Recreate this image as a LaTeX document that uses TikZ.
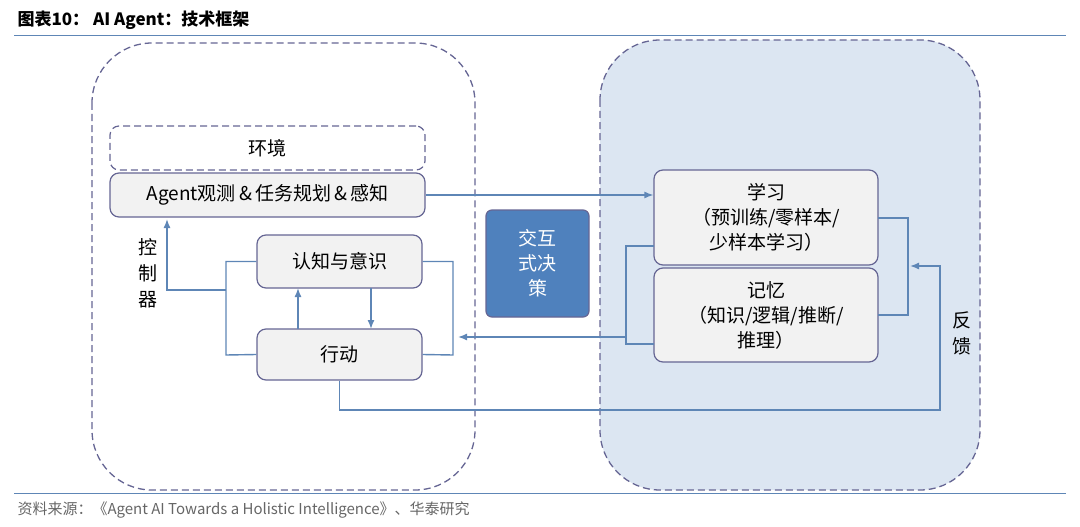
\documentclass[tikz,border=0pt]{standalone}
\usepackage{fontspec}
\setmainfont{Liberation Sans}
\newfontfamily\cjk{Noto Sans CJK SC}
\begin{document}
\begin{tikzpicture}[x=1pt,y=-1pt,
 box/.style={draw=black!70!blue!60,line width=1.2pt,fill=black!5,rounded corners=9pt,align=center,font=\cjk\fontsize{19}{25}\selectfont},
 con/.style={draw=lnc,line width=1.4pt},
 arr/.style={con,-{Latex[length=9pt,width=7pt]}}]
\usetikzlibrary{arrows.meta}
\definecolor{lnc}{HTML}{5E86B6}
\definecolor{bgb}{HTML}{DCE6F2}
\definecolor{dec}{HTML}{4F81BD}
\useasboundingbox (0,0) rectangle (1080,527);
\node[anchor=west,font=\cjk\bfseries\fontsize{17}{20}\selectfont] (title) at (14,20) {图表10： AI Agent：技术框架};
\draw[lnc,line width=1pt] (14,36) -- (1066,36);
\draw[lnc,line width=1pt] (14,493) -- (1066,493);
\node[anchor=west,font=\cjk\fontsize{15}{18}\selectfont,text=black!60] (src) at (14,510) {资料来源：《Agent AI Towards a Holistic Intelligence》、华泰研究};
\draw[dashed,line width=1.3pt,draw=black!70!blue!60,rounded corners=60pt,dash pattern=on 7pt off 4pt] (92,43) rectangle (475,490);
\draw[dashed,line width=1.3pt,draw=black!70!blue!60,fill=bgb,rounded corners=60pt,dash pattern=on 7pt off 4pt] (600,40) rectangle (980,490);
\node[box,fill=white,dashed,dash pattern=on 7pt off 4pt,minimum width=315pt,minimum height=44pt] (env) at (267.5,148) {环境};
\node[box,minimum width=315pt,minimum height=44pt] (agent) at (267.5,195) {Agent观测\,\&\,任务规划\,\&\,感知};
\node[box,minimum width=165pt,minimum height=53pt] (cog) at (339.5,261.5) {认知与意识};
\node[box,minimum width=165pt,minimum height=51pt] (act) at (339.5,354.5) {行动};
\node[box,fill=dec,text=white,minimum width=103pt,minimum height=107pt,rounded corners=6pt] (dec) at (537.5,263.5) {交互\\式决\\策};
\node[box,minimum width=224pt,minimum height=95pt] (learn) at (766,217.5) {学习\\（预训练/零样本/\\少样本学习）};
\node[box,minimum width=224pt,minimum height=94pt] (mem) at (766,315) {记忆\\（知识/逻辑/推断/\\推理）};
\node[font=\cjk\fontsize{19}{26}\selectfont,align=center] (ctl) at (148,273) {控\\制\\器};
\node[font=\cjk\fontsize{19}{26}\selectfont,align=center] (fb) at (962,333) {反\\馈};
\coordinate (j1) at (226,290);
\draw[arr] (agent.east) -- (learn.west |- agent.east);
\draw[con] (cog.west) -| (226,355) -- (act.west);
\draw[arr] (j1) -| (167,219);
\draw[con] (cog.east) -| (453,355) -- (act.east);
\draw[arr] (298,329) -- (298,288);
\draw[arr] (371,288) -- (371,329);
\draw[arr] (act.south) |- (940,410) |- (910,266);
\draw[con] (878,218) -| (908,315) -- (878,315);
\draw[con] (654,246) -| (626,344) -- (654,344);
\draw[arr] (626,337) -- (458,337);
\end{tikzpicture}
\end{document}
